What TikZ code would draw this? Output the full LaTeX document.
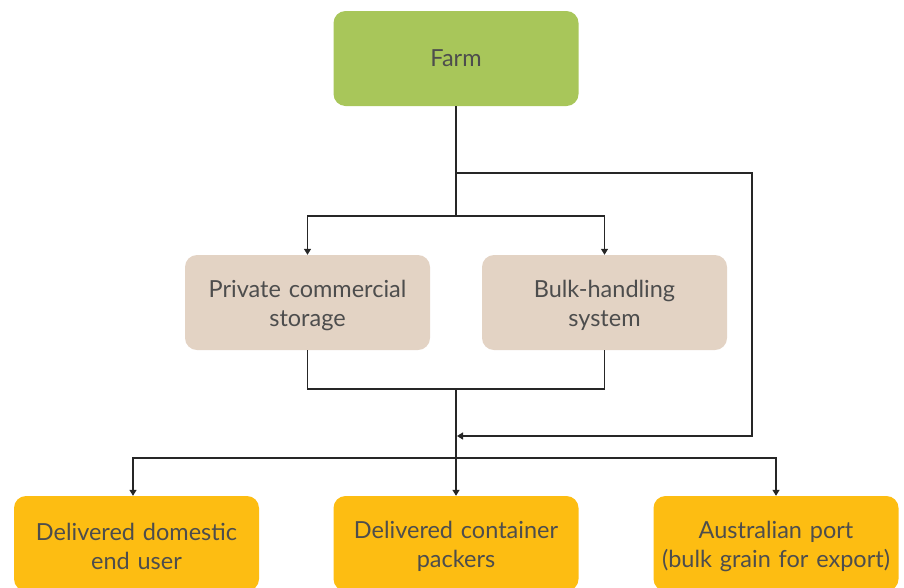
\documentclass[tikz,border=0pt]{standalone}
\usepackage{fontspec}
\setmainfont{Lato}
\usetikzlibrary{arrows.meta}
\definecolor{farmgreen}{HTML}{A8C65A}
\definecolor{midbeige}{HTML}{E3D3C4}
\definecolor{endyellow}{HTML}{FDBD12}
\definecolor{txtgray}{HTML}{4D4D4D}
\tikzset{
  box/.style={rounded corners=12pt, minimum width=245pt, minimum height=95pt, text width=240pt, align=center, inner sep=0pt, text=txtgray, font=\fontsize{23.5}{29}\selectfont},
  twoline/.style={execute at begin node={\rule{0pt}{23pt}}},
  farmbox/.style={box, fill=farmgreen},
  midbox/.style={box, twoline, fill=midbeige},
  endbox/.style={box, twoline, fill=endyellow},
  conn/.style={draw=black!85, line width=1.3pt},
  arr/.style={conn, -{Triangle[width=7pt,length=6pt]}}
}
\begin{document}
\begin{tikzpicture}[x=1pt,y=-1pt]
\useasboundingbox (0,0) rectangle (904,587);
\clip (0,0) rectangle (904,587);
\node[farmbox] (farm) at (456,58.5) {Farm};
\node[midbox] (pcs) at (307.5,302.5) {Private commercial\\storage};
\node[midbox] (bhs) at (604.5,302.5) {Bulk-handling\\system};
\node[endbox] (deu) at (136.5,543.5) {Delivered domestic\\end user};
\node[endbox] (dcp) at (456,543.5) {Delivered container\\packers};
\node[endbox] (port) at (776,543.5) {Australian port\\(bulk grain for export)};
\coordinate (j1) at (456,173);
\coordinate (j2) at (456,216);
\coordinate (r1) at (752,173);
\coordinate (r2) at (752,436);
\coordinate (m) at (457,436);
\coordinate (j3) at (456,389);
\coordinate (j4) at (456,458);
\draw[conn] (farm.south) -- (j2);
\draw[arr] (j2) -| (pcs.north);
\draw[arr] (j2) -| (bhs.north);
\draw[arr] (j1) -- (r1) -- (r2) -- (m);
\draw[conn] (pcs.south) |- (j3);
\draw[conn] (bhs.south) |- (j3);
\draw[arr] (j3) -- (dcp.north);
\draw[arr] (j4) -| (deu.north -| 133,0);
\draw[arr] (j4) -| (port.north);
\end{tikzpicture}
\end{document}
